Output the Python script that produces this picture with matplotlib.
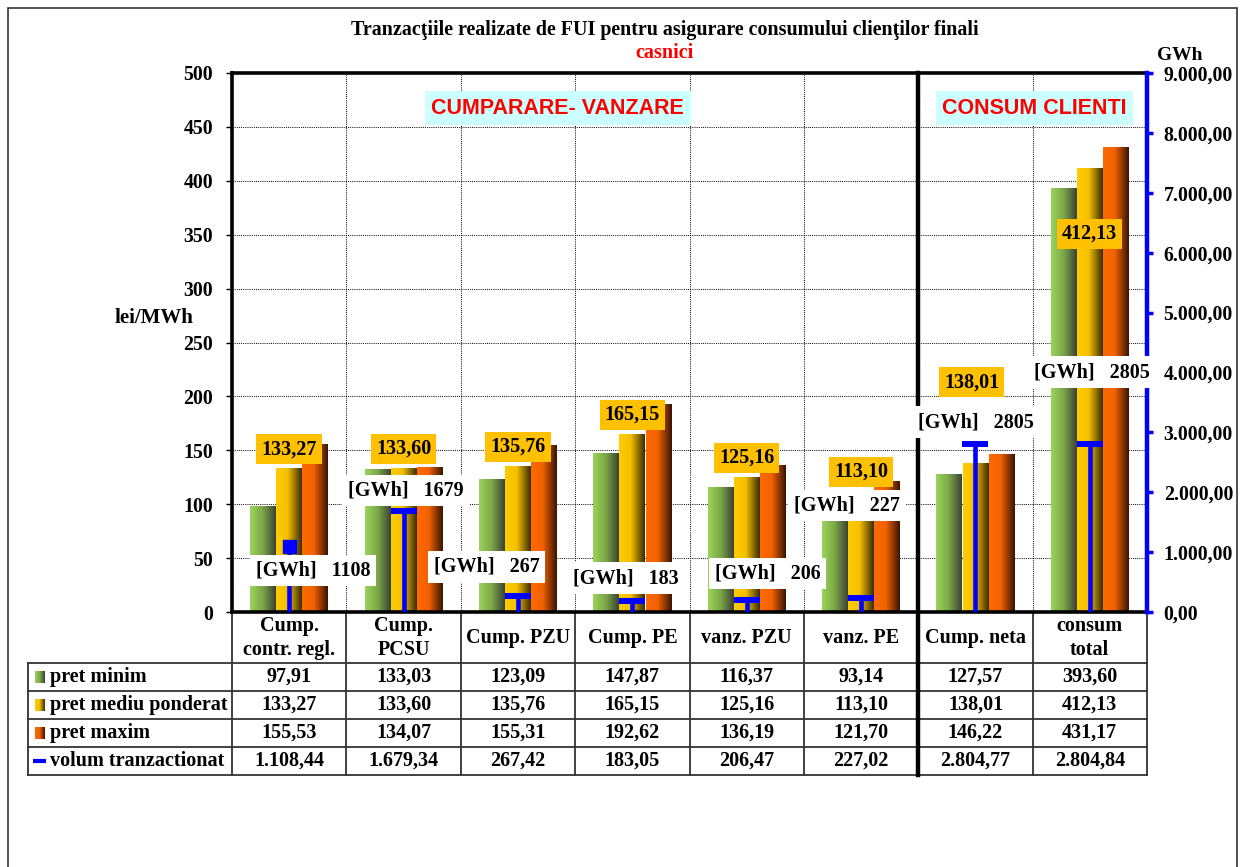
import numpy as np
import matplotlib.pyplot as plt
from matplotlib.colors import LinearSegmentedColormap
from matplotlib.patches import Rectangle
from matplotlib.ticker import FuncFormatter

#% DATE
categorii = ["Cump.\ncontr. regl.", "Cump.\nPCSU", "Cump. PZU", "Cump. PE",
             "vanz. PZU", "vanz. PE", "Cump. neta", "consum\ntotal"]
serii = ["pret minim", "pret mediu ponderat", "pret maxim", "volum tranzactionat"]
pret_minim = [97.91, 133.03, 123.09, 147.87, 116.37, 93.14, 127.57, 393.60]
pret_mediu = [133.27, 133.60, 135.76, 165.15, 125.16, 113.10, 138.01, 412.13]
pret_maxim = [155.53, 134.07, 155.31, 192.62, 136.19, 121.70, 146.22, 431.17]
volum = [1108.44, 1679.34, 267.42, 183.05, 206.47, 227.02, 2804.77, 2804.84]

# decalaje etichete (pixeli)
oranj_dx = [0, 0, 0, 0, 0, 0, -4, 0]
oranj_dy = [19, 19, 19, 19, 19, 18, 81, -66]
gwh_dx = [24, 2, -31, -6, 21, -14, 0, 2]
gwh_dy = [-25, 21, 29, 23, 26, 93, 22, 72]
marker_vol = ['s', '_', '_', '_', '_', '_', '_', '_']


def fmt(v):
    s = f"{v:,.2f}"
    return s.replace(",", "#").replace(".", ",").replace("#", ".")


plt.rcParams['font.family'] = ['Liberation Serif', 'DejaVu Serif']
plt.rcParams['font.weight'] = 'bold'

W, H = 1246, 867
PX = 0.72  # pixeli -> puncte
fig = plt.figure(figsize=(W / 100, H / 100), dpi=100)
ax = fig.add_axes([232 / W, 1 - 612 / H, (1147 - 232) / W, (612 - 73) / H])

cm_verde = LinearSegmentedColormap.from_list('v', ['#9AD45A', '#7BA648', '#3C4234'])
cm_galben = LinearSegmentedColormap.from_list(
    'g', [(0, '#FFCC00'), (0.45, '#F5C000'), (1, '#3A2D05')])
cm_oranj = LinearSegmentedColormap.from_list(
    'o', [(0, '#FF6A00'), (0.45, '#F26200'), (1, '#3A1405')])
cmaps = [cm_verde, cm_galben, cm_oranj]
grad = np.linspace(0, 1, 64).reshape(1, -1)

x = np.arange(len(categorii))
latime = 0.225
for k, (vals, cm) in enumerate(zip([pret_minim, pret_mediu, pret_maxim], cmaps)):
    bars = ax.bar(x + (k - 1) * 0.228, vals, width=latime, color=cm(0.3), zorder=2)
    for b in bars:
        x0, y0 = b.get_xy()
        im = ax.imshow(grad, cmap=cm, aspect='auto', zorder=2.1, interpolation='bicubic',
                       extent=[x0, x0 + b.get_width(), y0, y0 + b.get_height()])
        im.set_clip_path(b)

ax.set_xlim(-0.5, len(categorii) - 0.5)
ax.set_ylim(0, 500)
ax.set_yticks(np.arange(0, 501, 50))
ax.set_xticks(x[:-1] + 0.5)
ax.tick_params(axis='x', length=0, labelbottom=False)
ax.tick_params(axis='y', direction='out', length=4.5, width=1, labelsize=14.3, pad=9)
ax.grid(True, color='black', linestyle=(0, (1, 1.2)), linewidth=0.7)
ax.set_axisbelow(True)
for s in ['left', 'top', 'bottom']:
    ax.spines[s].set_linewidth(2.6)
ax.spines['right'].set_visible(False)

# axa secundara - volum
ax2 = ax.twinx()
ax2.set_ylim(0, 9000)
ax2.set_yticks(np.arange(0, 9001, 1000))
ax2.yaxis.set_major_formatter(FuncFormatter(lambda v, p: fmt(v)))
ax2.tick_params(axis='y', colors='blue', labelcolor='black', length=4, width=2.5,
                labelsize=14.3, pad=8)
for s in ['left', 'top', 'bottom']:
    ax2.spines[s].set_visible(False)
ax2.spines['right'].set_color('blue')
ax2.spines['right'].set_linewidth(3.2)

ax2.vlines(x, 0, volum, color='blue', linewidth=3.3, zorder=3)
for i, v in enumerate(volum):
    if marker_vol[i] == 's':
        ax2.plot(x[i], v, marker='s', markersize=13 * PX, color='blue', zorder=3)
    else:
        ax2.plot(x[i], v, marker='_', markersize=26 * PX, markeredgewidth=6 * PX,
                 color='blue', zorder=3)

# etichete
for i, v in enumerate(pret_mediu):
    ax2.annotate(fmt(v), (x[i], v), xycoords=ax.transData,
                 xytext=(oranj_dx[i] * PX, oranj_dy[i] * PX), textcoords='offset points',
                 ha='center', va='center', fontsize=14.5, zorder=7, annotation_clip=False,
                 bbox=dict(boxstyle='square,pad=0.25', fc='#FFC000', ec='none'))
for i, v in enumerate(volum):
    ax2.annotate(f"[GWh]   {v:.0f}", (x[i], v),
                 xytext=(gwh_dx[i] * PX, gwh_dy[i] * PX), textcoords='offset points',
                 ha='center', va='center', fontsize=14.5, zorder=6, annotation_clip=False,
                 bbox=dict(boxstyle='square,pad=0.28', fc='white', ec='none'))

ax2.text(0.356, 0.935, "CUMPARARE- VANZARE", transform=ax.transAxes, ha='center',
         va='center', color='red', fontsize=15.5, family='Liberation Sans', zorder=7,
         bbox=dict(boxstyle='square,pad=0.3', fc='#CCFFFF', ec='none'))
ax2.text(0.877, 0.935, "CONSUM CLIENTI", transform=ax.transAxes, ha='center',
         va='center', color='red', fontsize=15.5, family='Liberation Sans', zorder=7,
         bbox=dict(boxstyle='square,pad=0.3', fc='#CCFFFF', ec='none'))

fig.text(665 / W, 1 - 30 / H,
         "Tranzacţiile realizate de FUI pentru asigurare consumului clienţilor finali",
         ha='center', va='center', fontsize=14.4)
fig.text(665 / W, 1 - 53 / H, "casnici", ha='center', va='center', fontsize=14.5,
         color='red')
fig.text(154 / W, 1 - 318 / H, "lei/MWh", ha='center', va='center', fontsize=15)
fig.text(1180 / W, 1 - 55 / H, "GWh", ha='center', va='center', fontsize=14)

# tabel de date
tr = ax.get_xaxis_transform()
def ya(py):
    return (612 - py) / 539

linii = [663, 691, 719, 747, 775]
x_st = -0.5 - (232 - 28) / 114.375
for py in linii:
    ax.plot([x_st, len(categorii) - 0.5], [ya(py)] * 2, transform=tr, color='#333333',
            lw=1.3, clip_on=False)
ax.plot([x_st, x_st], [ya(663), ya(775)], transform=tr, color='#333333', lw=1.3,
        clip_on=False)
for b in np.arange(-0.5, len(categorii), 1.0):
    if b == 5.5:
        ax.plot([b, b], [1, ya(775)], transform=tr, color='black', lw=3.2,
                clip_on=False, zorder=4)
    else:
        ax.plot([b, b], [0, ya(775)], transform=tr, color='#333333', lw=1.3,
                clip_on=False)

for i, c in enumerate(categorii):
    ax.text(x[i], ya(638), c, transform=tr, ha='center', va='center', fontsize=14.5,
            linespacing=1.3)
rand = [pret_minim, pret_mediu, pret_maxim, volum]
centre = [677, 705, 733, 761]
for r, vals in enumerate(rand):
    for i, v in enumerate(vals):
        ax.text(x[i], ya(centre[r]), fmt(v), transform=tr, ha='center', va='center',
                fontsize=14.5)
    ax.text(-0.5 - (232 - 50) / 114.375, ya(centre[r]), serii[r], transform=tr,
            ha='left', va='center', fontsize=14.5)
    kx = -0.5 - (232 - 35) / 114.375
    if r < 3:
        kax = ax.inset_axes([kx, ya(centre[r] + 6), 10 / 114.375, 12 / 539], transform=tr)
        kax.imshow(grad, cmap=cmaps[r], aspect='auto')
        kax.axis('off')
    else:
        ax.plot([kx - 2 / 114.375, kx + 11 / 114.375], [ya(centre[r])] * 2, transform=tr,
                color='blue', lw=3, clip_on=False, solid_capstyle='butt')

fig.add_artist(Rectangle((8 / W, -0.01), (1237 - 8) / W, 1 - 8 / H + 0.01,
                         transform=fig.transFigure, fill=False, ec='#333333', lw=1.2))

fig.savefig('out.png', dpi=100)
